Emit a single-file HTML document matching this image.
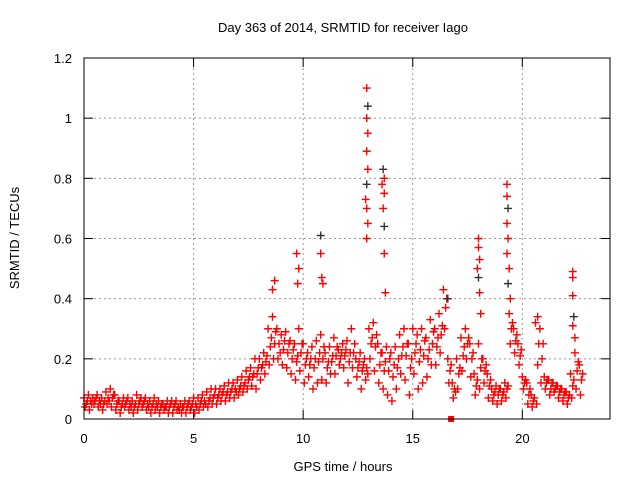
<!DOCTYPE html>
<html><head><meta charset="utf-8"><style>
body{margin:0;background:#fff}
svg text{font-family:"Liberation Sans",sans-serif;font-size:13px;fill:#000}
</style></head><body>
<svg id="chart" width="640" height="480" xmlns="http://www.w3.org/2000/svg">
<rect width="640" height="480" fill="#fff"/>
<text x="343" y="32" text-anchor="middle">Day 363 of 2014, SRMTID for receiver Iago</text>
<text transform="translate(19,238) rotate(-90)" text-anchor="middle">SRMTID / TECUs</text>
<text x="343" y="471" text-anchor="middle">GPS time / hours</text>
<g id="grid"></g><g id="ticks"></g><g id="marks"></g>
<rect x="84" y="58" width="526" height="361" fill="none" stroke="#000" stroke-width="1"/>
</svg>
<script>
const xTicks=[0,5,10,15,20];
const yTicks=[0,0.2,0.4,0.6,0.8,1,1.2];
const yTickLabels=["0","0.2","0.4","0.6","0.8","1","1.2"];
const hiVals=[0.07,0.08,0.07,0.08,0.07,0.09,0.1,0.08,0.06,0.07,
0.07,0.06,0.08,0.07,0.07,0.06,0.07,0.06,0.05,0.06,
0.06,0.06,0.05,0.06,0.06,0.07,0.07,0.08,0.09,0.1,
0.1,0.1,0.11,0.12,0.12,0.13,0.14,0.16,0.17,0.2,
0.2,0.22,0.3,0.34,0.3,0.28,0.29,0.26,0.25,0.3,
0.25,0.22,0.24,0.26,0.28,0.22,0.24,0.27,0.23,0.25,
0.26,0.3,0.2,0.22,0.2,0.3,0.32,0.25,0.22,0.24,
0.22,0.24,0.28,0.3,0.25,0.3,0.28,0.3,0.27,0.33,
0.3,0.35,0.43,0.2,0.12,0.2,0.27,0.3,0.25,0.15,
0.25,0.2,0.15,0.1,0.11,0.1,0.12,0.35,0.3,0.25,
0.14,0.12,0.08,0.32,0.3,0.14,0.13,0.12,0.11,0.1,
0.09,0.15,0.22,0.18];
const loVals=[0.04,0.03,0.05,0.04,0.03,0.05,0.04,0.03,0.02,0.04,
0.03,0.02,0.03,0.04,0.03,0.02,0.03,0.02,0.03,0.02,
0.02,0.03,0.02,0.02,0.03,0.02,0.03,0.04,0.04,0.05,
0.05,0.06,0.06,0.07,0.07,0.08,0.09,0.1,0.11,0.1,
0.13,0.15,0.18,0.2,0.2,0.18,0.17,0.15,0.13,0.16,
0.12,0.14,0.1,0.12,0.13,0.12,0.15,0.15,0.18,0.17,
0.12,0.17,0.14,0.1,0.13,0.2,0.16,0.12,0.1,0.08,
0.06,0.1,0.15,0.13,0.08,0.15,0.1,0.12,0.14,0.18,
0.18,0.22,0.3,0.12,0.07,0.1,0.16,0.2,0.14,0.08,
0.1,0.12,0.07,0.06,0.05,0.06,0.07,0.25,0.22,0.18,
0.1,0.05,0.04,0.05,0.12,0.1,0.08,0.09,0.07,0.06,
0.05,0.07,0.1,0.08];
const midVals=[0.05,0.06,0.06,0.06,0.05,0.07,0.07,0.05,0.04,0.05,
0.05,0.04,0.05,0.05,0.05,0.04,0.05,0.04,0.04,0.04,
0.04,0.04,0.04,0.04,0.04,0.05,0.05,0.06,0.06,0.07,
0.07,0.08,0.08,0.09,0.1,0.1,0.11,0.13,0.14,0.15,
0.17,0.19,0.24,0.25,0.25,0.23,0.22,0.2,0.19,0.22,
0.18,0.18,0.17,0.19,0.2,0.17,0.19,0.21,0.2,0.21,
0.19,0.22,0.17,0.16,0.17,0.25,0.24,0.18,0.16,0.16,
0.14,0.17,0.21,0.21,0.17,0.22,0.19,0.21,0.2,0.25,
0.24,0.28,0.37,0.16,0.1,0.15,0.21,0.25,0.2,0.11,
0.17,0.16,0.11,0.08,0.08,0.08,0.1,0.3,0.26,0.21,
0.12,0.08,0.06,0.18,0.2,0.12,0.1,0.1,0.09,0.08,
0.07,0.11,0.16,0.13];
const extraVals=[0.06,0.05,0.07,0.05,0.06,0.06,0.08,0.06,0.05,0.06,
0.04,0.05,0.06,0.06,0.04,0.05,0.04,0.05,0.04,0.05,
0.05,0.03,0.04,0.05,0.05,0.04,0.06,0.05,0.07,0.08,
0.08,0.09,0.09,0.1,0.09,0.11,0.12,0.14,0.15,0.17,
0.18,0.21,0.27,0.29,0.22,0.26,0.25,0.23,0.21,0.25,
0.2,0.2,0.2,0.22,0.24,0.19,0.21,0.24,0.22,0.23,
0.22,0.25,0.19,0.18,0.15,0.27,0.28,0.22,0.19,0.2,
0.18,0.2,0.24,0.25,0.2,0.25,0.23,0.26,0.23,0.29,
0.27,0.31,0.4,0.18,0.09,0.17,0.24,0.27,0.22,0.13,
0.2,0.18,0.13,0.09,0.1,0.09,0.11,0.32,0.28,0.23,
0.13,0.1,0.07,0.25,0.25,0.13,0.12,0.11,0.1,0.09,
0.08,0.13,0.19,0.15];
const spikeTimes=[9.7,9.8,9.75,10.8,10.8,10.85,10.9,12.9,12.95,12.9,12.95,12.9,12.95,12.9,12.85,12.9,12.95,12.9,13.65,13.7,13.6,13.7,13.65,13.7,13.7,13.75,8.7,8.6,16.6,18,18,18.05,17.95,18,18.05,18.1,19.3,19.3,19.35,19.3,19.35,19.3,19.4,19.35,19.45,22.3,22.3,22.3,22.35,22.3,22.4,20.7];
const spikeVals=[0.55,0.5,0.45,0.61,0.55,0.47,0.45,1.1,1.04,1.0,0.95,0.89,0.83,0.78,0.73,0.7,0.65,0.6,0.83,0.8,0.78,0.75,0.7,0.64,0.55,0.42,0.46,0.43,0.4,0.6,0.57,0.53,0.5,0.47,0.42,0.35,0.78,0.74,0.7,0.65,0.6,0.55,0.5,0.45,0.4,0.49,0.47,0.41,0.34,0.31,0.27,0.34];
const xs=h=>84+h*(526/24);
const ys=v=>419-v*(361/1.2);
const NS="http://www.w3.org/2000/svg";
const grid=document.getElementById('grid'),ticks=document.getElementById('ticks'),marks=document.getElementById('marks');
function mk(tag,attrs,parent){const e=document.createElementNS(NS,tag);for(const k in attrs)e.setAttribute(k,attrs[k]);parent.appendChild(e);return e;}
xTicks.forEach(t=>{
  const x=xs(t);
  if(t>0){const g=mk('line',{x1:x,y1:58,x2:x,y2:419,stroke:'#999','stroke-dasharray':'2,3'},grid);
  
  }
  mk('line',{x1:x,y1:419,x2:x,y2:410,stroke:'#000'},ticks);
  mk('line',{x1:x,y1:58,x2:x,y2:67,stroke:'#000'},ticks);
  const l=mk('text',{x:x,y:443,'text-anchor':'middle'},ticks);l.textContent=t;
  
  
});
yTicks.forEach((v,i)=>{
  const y=ys(v);
  if(v>0&&v<1.2){const g=mk('line',{x1:84,y1:y,x2:610,y2:y,stroke:'#999','stroke-dasharray':'2,3'},grid);
  
  }
  mk('line',{x1:84,y1:y,x2:93,y2:y,stroke:'#000'},ticks);
  mk('line',{x1:610,y1:y,x2:601,y2:y,stroke:'#000'},ticks);
  const l=mk('text',{x:72,y:y+5,'text-anchor':'end'},ticks);l.textContent=yTickLabels[i];
  
  
});
function plus(t,v,color){
  const x=xs(t),y=ys(v);
  const p=mk('path',{d:`M${x-4},${y}h8M${x},${y-4}v8`,stroke:color,'stroke-width':1.4,fill:'none'},marks);
  
  
}
hiVals.forEach((v,i)=>plus(i*0.2,v,'#f00'));
loVals.forEach((v,i)=>plus(i*0.2+0.05,v,'#f00'));
midVals.forEach((v,i)=>plus(i*0.2+0.1,v,'#f00'));
extraVals.forEach((v,i)=>plus(i*0.2+0.15,v,'#f00'));
spikeTimes.forEach((t,i)=>plus(t,spikeVals[i],i%5==3?'#333':'#f00'));
const sq=mk('rect',{x:xs(16.75)-3,y:ys(0)-3,width:6,height:6,fill:'#f00'},marks);


</script>
</body></html>
